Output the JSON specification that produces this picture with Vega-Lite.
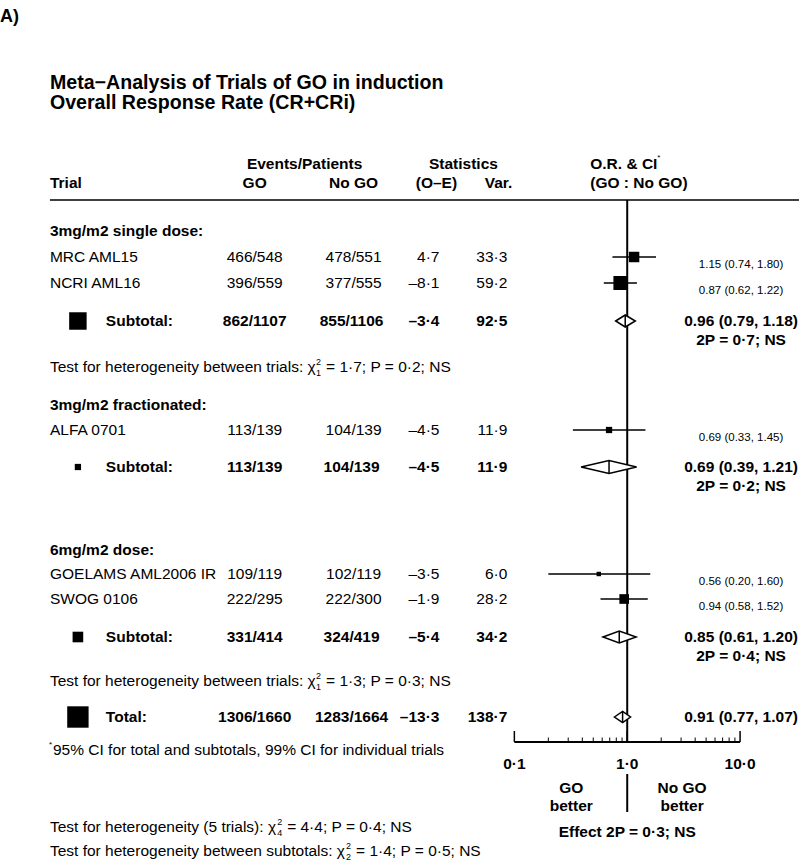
{
  "$schema": "https://vega.github.io/schema/vega-lite/v6.json",
  "width": 800,
  "height": 862,
  "autosize": {"type": "fit", "contains": "padding"},
  "padding": 0,
  "background": "white",
  "config": {
    "view": {"stroke": null},
    "font": "Liberation Sans",
    "text": {"color": "black", "font": "Liberation Sans", "fontSize": 15.5, "baseline": "middle"},
    "rule": {"color": "black"}
  },
  "datasets": {
    "trials": [
      {"row": 257, "name": "MRC AML15", "go": "466/548", "nogo": "478/551", "oe": "4·7", "var": 33.3, "vlab": "33·3", "or": 1.15, "lo": 0.74, "hi": 1.80, "ci": "1.15 (0.74, 1.80)"},
      {"row": 283, "name": "NCRI AML16", "go": "396/559", "nogo": "377/555", "oe": "–8·1", "var": 59.2, "vlab": "59·2", "or": 0.87, "lo": 0.62, "hi": 1.22, "ci": "0.87 (0.62, 1.22)"},
      {"row": 430, "name": "ALFA 0701", "go": "113/139", "nogo": "104/139", "oe": "–4·5", "var": 11.9, "vlab": "11·9", "or": 0.69, "lo": 0.33, "hi": 1.45, "ci": "0.69 (0.33, 1.45)"},
      {"row": 574, "name": "GOELAMS AML2006 IR", "go": "109/119", "nogo": "102/119", "oe": "–3·5", "var": 6.0, "vlab": "6·0", "or": 0.56, "lo": 0.20, "hi": 1.60, "ci": "0.56 (0.20, 1.60)"},
      {"row": 599, "name": "SWOG 0106", "go": "222/295", "nogo": "222/300", "oe": "–1·9", "var": 28.2, "vlab": "28·2", "or": 0.94, "lo": 0.58, "hi": 1.52, "ci": "0.94 (0.58, 1.52)"}
    ],
    "subs": [
      {"row": 321, "name": "Subtotal:", "go": "862/1107", "nogo": "855/1106", "oe": "–3·4", "var": 92.5, "vlab": "92·5", "ci": "0.96 (0.79, 1.18)", "p": "2P = 0·7; NS"},
      {"row": 467, "name": "Subtotal:", "go": "113/139", "nogo": "104/139", "oe": "–4·5", "var": 11.9, "vlab": "11·9", "ci": "0.69 (0.39, 1.21)", "p": "2P = 0·2; NS"},
      {"row": 637, "name": "Subtotal:", "go": "331/414", "nogo": "324/419", "oe": "–5·4", "var": 34.2, "vlab": "34·2", "ci": "0.85 (0.61, 1.20)", "p": "2P = 0·4; NS"},
      {"row": 717, "name": "Total:", "go": "1306/1660", "nogo": "1283/1664", "oe": "–13·3", "var": 138.7, "vlab": "138·7", "ci": "0.91 (0.77, 1.07)", "p": ""}
    ],
    "diamonds": [
      {"g": "s1", "or": 0.79, "top": 321, "bot": 321},
      {"g": "s1", "or": 0.96, "top": 315, "bot": 327},
      {"g": "s1", "or": 1.18, "top": 321, "bot": 321},
      {"g": "s2", "or": 0.39, "top": 467, "bot": 467},
      {"g": "s2", "or": 0.69, "top": 460.5, "bot": 473.5},
      {"g": "s2", "or": 1.21, "top": 467, "bot": 467},
      {"g": "s3", "or": 0.61, "top": 637, "bot": 637},
      {"g": "s3", "or": 0.85, "top": 631, "bot": 643},
      {"g": "s3", "or": 1.20, "top": 637, "bot": 637},
      {"g": "tot", "or": 0.77, "top": 717, "bot": 717},
      {"g": "tot", "or": 0.91, "top": 711.5, "bot": 722.5},
      {"g": "tot", "or": 1.07, "top": 717, "bot": 717}
    ],
    "sections": [
      {"row": 231, "t": "3mg/m2 single dose:"},
      {"row": 405, "t": "3mg/m2 fractionated:"},
      {"row": 550, "t": "6mg/m2 dose:"}
    ],
    "hetTrials": [
      {"row": 367, "a": "Test for heterogeneity between trials: χ", "df": "1", "b": "= 1·7; P = 0·2; NS"},
      {"row": 681, "a": "Test for heterogeneity between trials: χ", "df": "1", "b": "= 1·3; P = 0·3; NS"}
    ],
    "hetAll": [
      {"row": 827, "a": "Test for heterogeneity (5 trials): χ", "df": "4", "b": "= 4·4; P = 0·4; NS"}
    ],
    "hetSubs": [
      {"row": 851, "a": "Test for heterogeneity between subtotals: χ", "df": "2", "b": "= 1·4; P = 0·5; NS"}
    ]
  },
  "layer": [
    {
      "layer": [
        {"data": {"values": [{"t": "A)"}]}, "mark": {"type": "text", "align": "left", "fontWeight": "bold", "fontSize": 18},
         "encoding": {"x": {"datum": 0, "scale": {"type": "linear", "domain": [0, 800], "nice": false, "zero": false}, "axis": null},
                      "y": {"datum": 17, "scale": {"domain": [0, 862], "reverse": true, "nice": false, "zero": false}, "axis": null},
                      "text": {"field": "t"}}},
        {"data": {"values": [{"t": "Meta−Analysis of Trials of GO in induction", "row": 83}, {"t": "Overall Response Rate (CR+CRi)", "row": 103}]},
         "mark": {"type": "text", "align": "left", "fontWeight": "bold", "fontSize": 19.6},
         "encoding": {"x": {"datum": 50, "scale": {"type": "linear", "domain": [0, 800], "nice": false, "zero": false}, "axis": null},
                      "y": {"field": "row", "type": "quantitative", "scale": {"domain": [0, 862], "reverse": true, "nice": false, "zero": false}, "axis": null},
                      "text": {"field": "t"}}},
        {"data": {"values": [{"t": "Events/Patients"}]}, "mark": {"type": "text", "align": "center", "fontWeight": "bold"},
         "encoding": {"x": {"datum": 305, "scale": {"type": "linear", "domain": [0, 800], "nice": false, "zero": false}, "axis": null},
                      "y": {"datum": 164, "scale": {"domain": [0, 862], "reverse": true, "nice": false, "zero": false}, "axis": null},
                      "text": {"field": "t"}}},
        {"data": {"values": [{"t": "Statistics"}]}, "mark": {"type": "text", "align": "center", "fontWeight": "bold"},
         "encoding": {"x": {"datum": 464, "scale": {"type": "linear", "domain": [0, 800], "nice": false, "zero": false}, "axis": null},
                      "y": {"datum": 164, "scale": {"domain": [0, 862], "reverse": true, "nice": false, "zero": false}, "axis": null},
                      "text": {"field": "t"}}},
        {"data": {"values": [{"t": "O.R. & CI"}]}, "mark": {"type": "text", "align": "left", "fontWeight": "bold"},
         "encoding": {"x": {"datum": 591, "scale": {"type": "linear", "domain": [0, 800], "nice": false, "zero": false}, "axis": null},
                      "y": {"datum": 164, "scale": {"domain": [0, 862], "reverse": true, "nice": false, "zero": false}, "axis": null},
                      "text": {"field": "t"}}},
        {"data": {"values": [{"t": "*"}]}, "mark": {"type": "text", "align": "left", "fontSize": 8},
         "encoding": {"x": {"datum": 658, "scale": {"type": "linear", "domain": [0, 800], "nice": false, "zero": false}, "axis": null},
                      "y": {"datum": 158, "scale": {"domain": [0, 862], "reverse": true, "nice": false, "zero": false}, "axis": null},
                      "text": {"field": "t"}}},
        {"data": {"values": [{"t": "Trial"}]}, "mark": {"type": "text", "align": "left", "fontWeight": "bold"},
         "encoding": {"x": {"datum": 50, "scale": {"type": "linear", "domain": [0, 800], "nice": false, "zero": false}, "axis": null},
                      "y": {"datum": 183, "scale": {"domain": [0, 862], "reverse": true, "nice": false, "zero": false}, "axis": null},
                      "text": {"field": "t"}}},
        {"data": {"values": [{"t": "GO"}]}, "mark": {"type": "text", "align": "center", "fontWeight": "bold"},
         "encoding": {"x": {"datum": 255, "scale": {"type": "linear", "domain": [0, 800], "nice": false, "zero": false}, "axis": null},
                      "y": {"datum": 183, "scale": {"domain": [0, 862], "reverse": true, "nice": false, "zero": false}, "axis": null},
                      "text": {"field": "t"}}},
        {"data": {"values": [{"t": "No GO"}]}, "mark": {"type": "text", "align": "center", "fontWeight": "bold"},
         "encoding": {"x": {"datum": 354, "scale": {"type": "linear", "domain": [0, 800], "nice": false, "zero": false}, "axis": null},
                      "y": {"datum": 183, "scale": {"domain": [0, 862], "reverse": true, "nice": false, "zero": false}, "axis": null},
                      "text": {"field": "t"}}},
        {"data": {"values": [{"t": "(O–E)"}]}, "mark": {"type": "text", "align": "center", "fontWeight": "bold"},
         "encoding": {"x": {"datum": 437, "scale": {"type": "linear", "domain": [0, 800], "nice": false, "zero": false}, "axis": null},
                      "y": {"datum": 183, "scale": {"domain": [0, 862], "reverse": true, "nice": false, "zero": false}, "axis": null},
                      "text": {"field": "t"}}},
        {"data": {"values": [{"t": "Var."}]}, "mark": {"type": "text", "align": "right", "fontWeight": "bold"},
         "encoding": {"x": {"datum": 513, "scale": {"type": "linear", "domain": [0, 800], "nice": false, "zero": false}, "axis": null},
                      "y": {"datum": 183, "scale": {"domain": [0, 862], "reverse": true, "nice": false, "zero": false}, "axis": null},
                      "text": {"field": "t"}}},
        {"data": {"values": [{"t": "(GO : No GO)"}]}, "mark": {"type": "text", "align": "left", "fontWeight": "bold"},
         "encoding": {"x": {"datum": 591, "scale": {"type": "linear", "domain": [0, 800], "nice": false, "zero": false}, "axis": null},
                      "y": {"datum": 183, "scale": {"domain": [0, 862], "reverse": true, "nice": false, "zero": false}, "axis": null},
                      "text": {"field": "t"}}},
        {"data": {"values": [{}]}, "mark": {"type": "rule", "strokeWidth": 1.5},
         "encoding": {"x": {"datum": 50, "scale": {"type": "linear", "domain": [0, 800], "nice": false, "zero": false}, "axis": null},
                      "x2": {"datum": 800},
                      "y": {"datum": 200, "scale": {"domain": [0, 862], "reverse": true, "nice": false, "zero": false}, "axis": null}}},
        {"data": {"name": "sections"}, "mark": {"type": "text", "align": "left", "fontWeight": "bold"},
         "encoding": {"x": {"datum": 50, "scale": {"type": "linear", "domain": [0, 800], "nice": false, "zero": false}, "axis": null},
                      "y": {"field": "row", "type": "quantitative", "scale": {"domain": [0, 862], "reverse": true, "nice": false, "zero": false}, "axis": null},
                      "text": {"field": "t"}}},
        {"data": {"name": "hetTrials"}, "mark": {"type": "text", "align": "left"},
         "encoding": {"x": {"datum": 50, "scale": {"type": "linear", "domain": [0, 800], "nice": false, "zero": false}, "axis": null},
                      "y": {"field": "row", "type": "quantitative", "scale": {"domain": [0, 862], "reverse": true, "nice": false, "zero": false}, "axis": null},
                      "text": {"field": "a"}}},
        {"data": {"name": "hetTrials"}, "mark": {"type": "text", "align": "left", "fontSize": 9, "dy": -5.5},
         "encoding": {"x": {"datum": 316.5, "scale": {"type": "linear", "domain": [0, 800], "nice": false, "zero": false}, "axis": null},
                      "y": {"field": "row", "type": "quantitative", "scale": {"domain": [0, 862], "reverse": true, "nice": false, "zero": false}, "axis": null},
                      "text": {"value": "2"}}},
        {"data": {"name": "hetTrials"}, "mark": {"type": "text", "align": "left", "fontSize": 9, "dy": 5.5},
         "encoding": {"x": {"datum": 316.5, "scale": {"type": "linear", "domain": [0, 800], "nice": false, "zero": false}, "axis": null},
                      "y": {"field": "row", "type": "quantitative", "scale": {"domain": [0, 862], "reverse": true, "nice": false, "zero": false}, "axis": null},
                      "text": {"field": "df"}}},
        {"data": {"name": "hetTrials"}, "mark": {"type": "text", "align": "left"},
         "encoding": {"x": {"datum": 326.5, "scale": {"type": "linear", "domain": [0, 800], "nice": false, "zero": false}, "axis": null},
                      "y": {"field": "row", "type": "quantitative", "scale": {"domain": [0, 862], "reverse": true, "nice": false, "zero": false}, "axis": null},
                      "text": {"field": "b"}}},
        {"data": {"name": "hetAll"}, "mark": {"type": "text", "align": "left"},
         "encoding": {"x": {"datum": 50, "scale": {"type": "linear", "domain": [0, 800], "nice": false, "zero": false}, "axis": null},
                      "y": {"field": "row", "type": "quantitative", "scale": {"domain": [0, 862], "reverse": true, "nice": false, "zero": false}, "axis": null},
                      "text": {"field": "a"}}},
        {"data": {"name": "hetAll"}, "mark": {"type": "text", "align": "left", "fontSize": 9, "dy": -5.5},
         "encoding": {"x": {"datum": 277.5, "scale": {"type": "linear", "domain": [0, 800], "nice": false, "zero": false}, "axis": null},
                      "y": {"field": "row", "type": "quantitative", "scale": {"domain": [0, 862], "reverse": true, "nice": false, "zero": false}, "axis": null},
                      "text": {"value": "2"}}},
        {"data": {"name": "hetAll"}, "mark": {"type": "text", "align": "left", "fontSize": 9, "dy": 5.5},
         "encoding": {"x": {"datum": 277.5, "scale": {"type": "linear", "domain": [0, 800], "nice": false, "zero": false}, "axis": null},
                      "y": {"field": "row", "type": "quantitative", "scale": {"domain": [0, 862], "reverse": true, "nice": false, "zero": false}, "axis": null},
                      "text": {"field": "df"}}},
        {"data": {"name": "hetAll"}, "mark": {"type": "text", "align": "left"},
         "encoding": {"x": {"datum": 287.5, "scale": {"type": "linear", "domain": [0, 800], "nice": false, "zero": false}, "axis": null},
                      "y": {"field": "row", "type": "quantitative", "scale": {"domain": [0, 862], "reverse": true, "nice": false, "zero": false}, "axis": null},
                      "text": {"field": "b"}}},
        {"data": {"name": "hetSubs"}, "mark": {"type": "text", "align": "left"},
         "encoding": {"x": {"datum": 50, "scale": {"type": "linear", "domain": [0, 800], "nice": false, "zero": false}, "axis": null},
                      "y": {"field": "row", "type": "quantitative", "scale": {"domain": [0, 862], "reverse": true, "nice": false, "zero": false}, "axis": null},
                      "text": {"field": "a"}}},
        {"data": {"name": "hetSubs"}, "mark": {"type": "text", "align": "left", "fontSize": 9, "dy": -5.5},
         "encoding": {"x": {"datum": 346.5, "scale": {"type": "linear", "domain": [0, 800], "nice": false, "zero": false}, "axis": null},
                      "y": {"field": "row", "type": "quantitative", "scale": {"domain": [0, 862], "reverse": true, "nice": false, "zero": false}, "axis": null},
                      "text": {"value": "2"}}},
        {"data": {"name": "hetSubs"}, "mark": {"type": "text", "align": "left", "fontSize": 9, "dy": 5.5},
         "encoding": {"x": {"datum": 346.5, "scale": {"type": "linear", "domain": [0, 800], "nice": false, "zero": false}, "axis": null},
                      "y": {"field": "row", "type": "quantitative", "scale": {"domain": [0, 862], "reverse": true, "nice": false, "zero": false}, "axis": null},
                      "text": {"field": "df"}}},
        {"data": {"name": "hetSubs"}, "mark": {"type": "text", "align": "left"},
         "encoding": {"x": {"datum": 356.5, "scale": {"type": "linear", "domain": [0, 800], "nice": false, "zero": false}, "axis": null},
                      "y": {"field": "row", "type": "quantitative", "scale": {"domain": [0, 862], "reverse": true, "nice": false, "zero": false}, "axis": null},
                      "text": {"field": "b"}}},
        {"data": {"values": [{"t": "*"}]}, "mark": {"type": "text", "align": "left", "fontSize": 8},
         "encoding": {"x": {"datum": 49, "scale": {"type": "linear", "domain": [0, 800], "nice": false, "zero": false}, "axis": null},
                      "y": {"datum": 745, "scale": {"domain": [0, 862], "reverse": true, "nice": false, "zero": false}, "axis": null},
                      "text": {"field": "t"}}},
        {"data": {"values": [{"t": "95% CI for total and subtotals, 99% CI for individual trials"}]}, "mark": {"type": "text", "align": "left"},
         "encoding": {"x": {"datum": 53, "scale": {"type": "linear", "domain": [0, 800], "nice": false, "zero": false}, "axis": null},
                      "y": {"datum": 750, "scale": {"domain": [0, 862], "reverse": true, "nice": false, "zero": false}, "axis": null},
                      "text": {"field": "t"}}},
        {"data": {"name": "trials"}, "mark": {"type": "text", "align": "left"},
         "encoding": {"x": {"datum": 50, "scale": {"type": "linear", "domain": [0, 800], "nice": false, "zero": false}, "axis": null},
                      "y": {"field": "row", "type": "quantitative", "scale": {"domain": [0, 862], "reverse": true, "nice": false, "zero": false}, "axis": null},
                      "text": {"field": "name"}}},
        {"data": {"name": "trials"}, "mark": {"type": "text", "align": "center"},
         "encoding": {"x": {"datum": 255, "scale": {"type": "linear", "domain": [0, 800], "nice": false, "zero": false}, "axis": null},
                      "y": {"field": "row", "type": "quantitative", "scale": {"domain": [0, 862], "reverse": true, "nice": false, "zero": false}, "axis": null},
                      "text": {"field": "go"}}},
        {"data": {"name": "trials"}, "mark": {"type": "text", "align": "center"},
         "encoding": {"x": {"datum": 354, "scale": {"type": "linear", "domain": [0, 800], "nice": false, "zero": false}, "axis": null},
                      "y": {"field": "row", "type": "quantitative", "scale": {"domain": [0, 862], "reverse": true, "nice": false, "zero": false}, "axis": null},
                      "text": {"field": "nogo"}}},
        {"data": {"name": "trials"}, "mark": {"type": "text", "align": "right"},
         "encoding": {"x": {"datum": 440, "scale": {"type": "linear", "domain": [0, 800], "nice": false, "zero": false}, "axis": null},
                      "y": {"field": "row", "type": "quantitative", "scale": {"domain": [0, 862], "reverse": true, "nice": false, "zero": false}, "axis": null},
                      "text": {"field": "oe"}}},
        {"data": {"name": "trials"}, "mark": {"type": "text", "align": "right"},
         "encoding": {"x": {"datum": 508, "scale": {"type": "linear", "domain": [0, 800], "nice": false, "zero": false}, "axis": null},
                      "y": {"field": "row", "type": "quantitative", "scale": {"domain": [0, 862], "reverse": true, "nice": false, "zero": false}, "axis": null},
                      "text": {"field": "vlab"}}},
        {"data": {"name": "trials"}, "mark": {"type": "text", "align": "center", "fontSize": 11.5, "dy": 8},
         "encoding": {"x": {"datum": 742, "scale": {"type": "linear", "domain": [0, 800], "nice": false, "zero": false}, "axis": null},
                      "y": {"field": "row", "type": "quantitative", "scale": {"domain": [0, 862], "reverse": true, "nice": false, "zero": false}, "axis": null},
                      "text": {"field": "ci"}}},
        {"data": {"name": "subs"}, "mark": {"type": "square", "filled": true, "color": "black", "opacity": 1},
         "encoding": {"x": {"datum": 78, "scale": {"type": "linear", "domain": [0, 800], "nice": false, "zero": false}, "axis": null},
                      "y": {"field": "row", "type": "quantitative", "scale": {"domain": [0, 862], "reverse": true, "nice": false, "zero": false}, "axis": null},
                      "size": {"field": "var", "type": "quantitative", "scale": {"type": "linear", "domain": [0, 100], "range": [0, 330], "zero": true}, "legend": null}}},
        {"data": {"name": "subs"}, "mark": {"type": "text", "align": "left", "fontWeight": "bold"},
         "encoding": {"x": {"datum": 106, "scale": {"type": "linear", "domain": [0, 800], "nice": false, "zero": false}, "axis": null},
                      "y": {"field": "row", "type": "quantitative", "scale": {"domain": [0, 862], "reverse": true, "nice": false, "zero": false}, "axis": null},
                      "text": {"field": "name"}}},
        {"data": {"name": "subs"}, "mark": {"type": "text", "align": "center", "fontWeight": "bold"},
         "encoding": {"x": {"datum": 255, "scale": {"type": "linear", "domain": [0, 800], "nice": false, "zero": false}, "axis": null},
                      "y": {"field": "row", "type": "quantitative", "scale": {"domain": [0, 862], "reverse": true, "nice": false, "zero": false}, "axis": null},
                      "text": {"field": "go"}}},
        {"data": {"name": "subs"}, "mark": {"type": "text", "align": "center", "fontWeight": "bold"},
         "encoding": {"x": {"datum": 352, "scale": {"type": "linear", "domain": [0, 800], "nice": false, "zero": false}, "axis": null},
                      "y": {"field": "row", "type": "quantitative", "scale": {"domain": [0, 862], "reverse": true, "nice": false, "zero": false}, "axis": null},
                      "text": {"field": "nogo"}}},
        {"data": {"name": "subs"}, "mark": {"type": "text", "align": "right", "fontWeight": "bold"},
         "encoding": {"x": {"datum": 440, "scale": {"type": "linear", "domain": [0, 800], "nice": false, "zero": false}, "axis": null},
                      "y": {"field": "row", "type": "quantitative", "scale": {"domain": [0, 862], "reverse": true, "nice": false, "zero": false}, "axis": null},
                      "text": {"field": "oe"}}},
        {"data": {"name": "subs"}, "mark": {"type": "text", "align": "right", "fontWeight": "bold"},
         "encoding": {"x": {"datum": 508, "scale": {"type": "linear", "domain": [0, 800], "nice": false, "zero": false}, "axis": null},
                      "y": {"field": "row", "type": "quantitative", "scale": {"domain": [0, 862], "reverse": true, "nice": false, "zero": false}, "axis": null},
                      "text": {"field": "vlab"}}},
        {"data": {"name": "subs"}, "mark": {"type": "text", "align": "center", "fontWeight": "bold"},
         "encoding": {"x": {"datum": 742, "scale": {"type": "linear", "domain": [0, 800], "nice": false, "zero": false}, "axis": null},
                      "y": {"field": "row", "type": "quantitative", "scale": {"domain": [0, 862], "reverse": true, "nice": false, "zero": false}, "axis": null},
                      "text": {"field": "ci"}}},
        {"data": {"name": "subs"}, "mark": {"type": "text", "align": "center", "fontWeight": "bold", "dy": 19},
         "encoding": {"x": {"datum": 742, "scale": {"type": "linear", "domain": [0, 800], "nice": false, "zero": false}, "axis": null},
                      "y": {"field": "row", "type": "quantitative", "scale": {"domain": [0, 862], "reverse": true, "nice": false, "zero": false}, "axis": null},
                      "text": {"field": "p"}}},
        {"data": {"values": [{"t": "GO", "row": 788}, {"t": "better", "row": 806}]}, "mark": {"type": "text", "align": "center", "fontWeight": "bold"},
         "encoding": {"x": {"datum": 572, "scale": {"type": "linear", "domain": [0, 800], "nice": false, "zero": false}, "axis": null},
                      "y": {"field": "row", "type": "quantitative", "scale": {"domain": [0, 862], "reverse": true, "nice": false, "zero": false}, "axis": null},
                      "text": {"field": "t"}}},
        {"data": {"values": [{"t": "No GO", "row": 788}, {"t": "better", "row": 806}]}, "mark": {"type": "text", "align": "center", "fontWeight": "bold"},
         "encoding": {"x": {"datum": 683, "scale": {"type": "linear", "domain": [0, 800], "nice": false, "zero": false}, "axis": null},
                      "y": {"field": "row", "type": "quantitative", "scale": {"domain": [0, 862], "reverse": true, "nice": false, "zero": false}, "axis": null},
                      "text": {"field": "t"}}},
        {"data": {"values": [{"t": "Effect 2P = 0·3; NS"}]}, "mark": {"type": "text", "align": "center", "fontWeight": "bold"},
         "encoding": {"x": {"datum": 628, "scale": {"type": "linear", "domain": [0, 800], "nice": false, "zero": false}, "axis": null},
                      "y": {"datum": 832, "scale": {"domain": [0, 862], "reverse": true, "nice": false, "zero": false}, "axis": null},
                      "text": {"field": "t"}}}
      ]
    },
    {
      "layer": [
        {"data": {"values": [{}]}, "mark": {"type": "rule", "strokeWidth": 2},
         "encoding": {"x": {"datum": 1, "scale": {"type": "log", "domain": [0.00000277, 33.27], "nice": false}, "axis": null},
                      "y": {"datum": 200, "scale": {"domain": [0, 862], "reverse": true, "nice": false, "zero": false}, "axis": null},
                      "y2": {"datum": 742}}},
        {"data": {"values": [{}]}, "mark": {"type": "rule", "strokeWidth": 2},
         "encoding": {"x": {"datum": 1, "scale": {"type": "log", "domain": [0.00000277, 33.27], "nice": false}, "axis": null},
                      "y": {"datum": 774, "scale": {"domain": [0, 862], "reverse": true, "nice": false, "zero": false}, "axis": null},
                      "y2": {"datum": 812}}},
        {"data": {"values": [{}]}, "mark": {"type": "rule", "strokeWidth": 2},
         "encoding": {"x": {"datum": 0.1, "scale": {"type": "log", "domain": [0.00000277, 33.27], "nice": false}, "axis": null},
                      "x2": {"datum": 10},
                      "y": {"datum": 742, "scale": {"domain": [0, 862], "reverse": true, "nice": false, "zero": false}, "axis": null}}},
        {"data": {"values": [{"t": 0.1}, {"t": 1}, {"t": 10}]}, "mark": {"type": "rule", "strokeWidth": 1.5},
         "encoding": {"x": {"field": "t", "type": "quantitative", "scale": {"type": "log", "domain": [0.00000277, 33.27], "nice": false}, "axis": null},
                      "y": {"datum": 731, "scale": {"domain": [0, 862], "reverse": true, "nice": false, "zero": false}, "axis": null},
                      "y2": {"datum": 742}}},
        {"data": {"values": [{"t": 0.2}, {"t": 0.3}, {"t": 0.4}, {"t": 0.5}, {"t": 0.6}, {"t": 0.7}, {"t": 0.8}, {"t": 0.9}, {"t": 2}, {"t": 3}, {"t": 4}, {"t": 5}, {"t": 6}, {"t": 7}, {"t": 8}, {"t": 9}]},
         "mark": {"type": "rule", "strokeWidth": 1},
         "encoding": {"x": {"field": "t", "type": "quantitative", "scale": {"type": "log", "domain": [0.00000277, 33.27], "nice": false}, "axis": null},
                      "y": {"datum": 737.5, "scale": {"domain": [0, 862], "reverse": true, "nice": false, "zero": false}, "axis": null},
                      "y2": {"datum": 742}}},
        {"data": {"values": [{"t": 0.1, "lab": "0·1"}, {"t": 1, "lab": "1·0"}, {"t": 10, "lab": "10·0"}]},
         "mark": {"type": "text", "align": "center", "fontWeight": "bold"},
         "encoding": {"x": {"field": "t", "type": "quantitative", "scale": {"type": "log", "domain": [0.00000277, 33.27], "nice": false}, "axis": null},
                      "y": {"datum": 764, "scale": {"domain": [0, 862], "reverse": true, "nice": false, "zero": false}, "axis": null},
                      "text": {"field": "lab"}}},
        {"data": {"name": "trials"}, "mark": {"type": "rule", "strokeWidth": 1.5},
         "encoding": {"x": {"field": "lo", "type": "quantitative", "scale": {"type": "log", "domain": [0.00000277, 33.27], "nice": false}, "axis": null},
                      "x2": {"field": "hi"},
                      "y": {"field": "row", "type": "quantitative", "scale": {"domain": [0, 862], "reverse": true, "nice": false, "zero": false}, "axis": null}}},
        {"data": {"name": "trials"}, "mark": {"type": "square", "filled": true, "color": "black", "opacity": 1},
         "encoding": {"x": {"field": "or", "type": "quantitative", "scale": {"type": "log", "domain": [0.00000277, 33.27], "nice": false}, "axis": null},
                      "y": {"field": "row", "type": "quantitative", "scale": {"domain": [0, 862], "reverse": true, "nice": false, "zero": false}, "axis": null},
                      "size": {"field": "var", "type": "quantitative", "scale": {"type": "linear", "domain": [0, 100], "range": [0, 330], "zero": true}, "legend": null}}},
        {"data": {"name": "diamonds"}, "mark": {"type": "area", "orient": "vertical", "fill": "white", "stroke": "black", "strokeWidth": 1.5, "fillOpacity": 1, "line": false},
         "encoding": {"x": {"field": "or", "type": "quantitative", "scale": {"type": "log", "domain": [0.00000277, 33.27], "nice": false}, "axis": null},
                      "y": {"field": "top", "type": "quantitative", "scale": {"domain": [0, 862], "reverse": true, "nice": false, "zero": false}, "axis": null},
                      "y2": {"field": "bot"},
                      "detail": {"field": "g"}}},
        {"data": {"name": "diamonds"}, "transform": [{"filter": "datum.top != datum.bot"}], "mark": {"type": "rule", "strokeWidth": 1.5},
         "encoding": {"x": {"field": "or", "type": "quantitative", "scale": {"type": "log", "domain": [0.00000277, 33.27], "nice": false}, "axis": null},
                      "y": {"field": "top", "type": "quantitative", "scale": {"domain": [0, 862], "reverse": true, "nice": false, "zero": false}, "axis": null},
                      "y2": {"field": "bot"}}}
      ]
    }
  ],
  "resolve": {"scale": {"x": "independent"}}
}
